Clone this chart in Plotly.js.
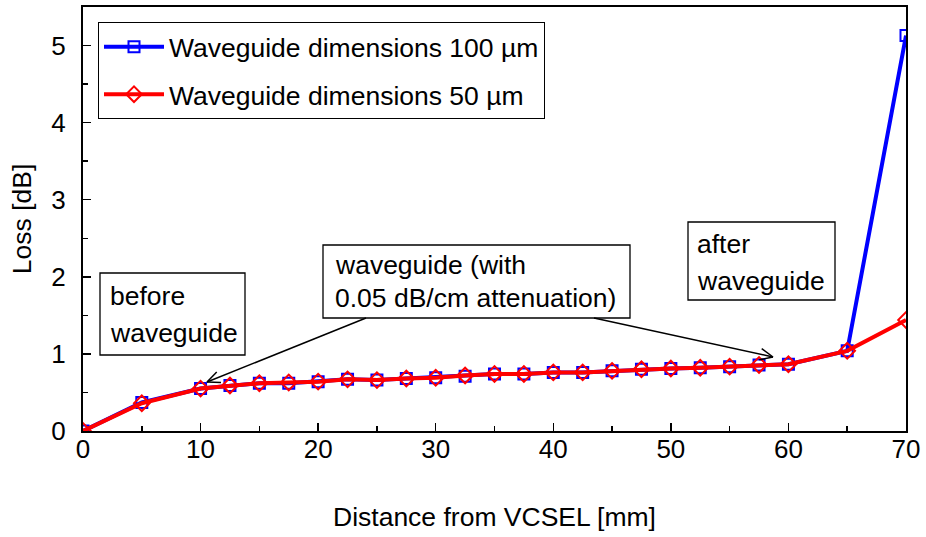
<!DOCTYPE html>
<html><head><meta charset="utf-8">
<script src="https://cdn.plot.ly/plotly-3.0.1.min.js"></script>
<style>html,body{margin:0;padding:0;background:#fff}#c{width:926px;height:537px}</style>
</head><body><div id="c"></div>
<script>
const distance = [0,5,10,12.5,15,17.5,20,22.5,25,27.5,30,32.5,35,37.5,40,42.5,45,47.5,50,52.5,55,57.5,60,65,70];
const loss100 = [0,0.37,0.55,0.59,0.62,0.62,0.64,0.67,0.66,0.68,0.69,0.71,0.74,0.74,0.76,0.76,0.78,0.80,0.81,0.82,0.835,0.855,0.865,1.04,5.13];
const loss50  = [0,0.36,0.55,0.59,0.62,0.63,0.64,0.67,0.66,0.68,0.69,0.72,0.74,0.74,0.76,0.76,0.78,0.80,0.81,0.82,0.835,0.857,0.866,1.04,1.44];
const seriesNames = ['Waveguide dimensions 100 µm','Waveguide dimensions 50 µm'];
const notes = [['before','waveguide'],['waveguide (with','0.05 dB/cm attenuation)'],['after','waveguide']];

const FONT = 'Liberation Sans, Arial, sans-serif';
const W=926,H=537, L=83, R=906, T=7, B=431;
const px = x => (x-L)/(R-L), py = y => (B-y)/(B-T);

const shapes=[], annotations=[];
function box(x0,y0,x1,y1,lines,tx,ty){
  shapes.push({type:'rect',xref:'paper',yref:'paper',x0:px(x0),x1:px(x1),y0:py(y1),y1:py(y0),line:{color:'#000',width:1.3},fillcolor:'#fff',layer:'above'});
  lines.forEach((t,i)=>annotations.push({xref:'paper',yref:'paper',x:px(tx),y:py(ty[i]),xanchor:'left',yanchor:'middle',showarrow:false,text:t,font:{family:FONT,size:26.5,color:'#000'}}));
}
box(100,273,245,355,notes[0],108,[296,333]);
box(323,245,630,318,notes[1],333,[265,298]);
box(688,222,835,300,notes[2],695,[244,281]);
function arrow(x0,y0,x1,y1){
  shapes.push({type:'line',xref:'paper',yref:'paper',x0:px(x0),y0:py(y0),x1:px(x1),y1:py(y1),line:{color:'#000',width:1.5}});
  const a=Math.atan2(y1-y0,x1-x0), len=14, h=0.42;
  [a+Math.PI-h,a+Math.PI+h].forEach(b=>shapes.push({type:'line',xref:'paper',yref:'paper',x0:px(x1),y0:py(y1),x1:px(x1+len*Math.cos(b)),y1:py(y1+len*Math.sin(b)),line:{color:'#000',width:1.5}}));
}
arrow(366,318,207,382);
arrow(594,318,773,357);

const traces=[
 {x:distance,y:loss100,name:seriesNames[0],type:'scatter',mode:'lines+markers',legendgroup:'a',
  line:{color:'#0000FF',width:4},marker:{symbol:'square-open',size:11,color:'#0000FF',line:{width:2}}},
 {x:distance,y:loss50,name:seriesNames[1],type:'scatter',mode:'lines+markers',legendgroup:'b',
  line:{color:'#FF0000',width:4},marker:{symbol:'diamond-open',size:12,color:'#FF0000',line:{width:2}}}
];
const layout={
 width:W,height:H,margin:{l:L,r:W-R,t:T,b:H-B},
 paper_bgcolor:'#fff',plot_bgcolor:'#fff',
 font:{family:FONT,size:22,color:'#000'},
 showlegend:true,
 legend:{x:px(98),y:py(22),xanchor:'left',yanchor:'top',bgcolor:'#fff',bordercolor:'#000',borderwidth:1,
   font:{family:FONT,size:26.5,color:'#000'},traceorder:'grouped',tracegroupgap:10,itemwidth:60},
 xaxis:{range:[0,70],dtick:10,ticks:'inside',ticklen:8,tickwidth:1.5,tickcolor:'#000',showline:true,linewidth:2,linecolor:'#000',mirror:true,
   showgrid:false,zeroline:false,minor:{dtick:5,ticks:'inside',ticklen:5,tickcolor:'#000'},
   title:{text:'Distance from VCSEL [mm]',font:{family:FONT,size:26.5},standoff:44},tickfont:{size:26},ticklabelstandoff:-6},
 yaxis:{range:[0,5.5],dtick:1,ticks:'inside',ticklen:8,tickwidth:1.5,tickcolor:'#000',showline:true,linewidth:2,linecolor:'#000',mirror:true,
   showgrid:false,zeroline:false,minor:{dtick:0.5,ticks:'inside',ticklen:5,tickcolor:'#000'},
   title:{text:'Loss [dB]',font:{family:FONT,size:26.5},standoff:12},tickfont:{size:26},ticklabelstandoff:10},
 shapes:shapes,annotations:annotations
};
Plotly.newPlot('c',traces,layout,{displayModeBar:false,staticPlot:true});
</script></body></html>
